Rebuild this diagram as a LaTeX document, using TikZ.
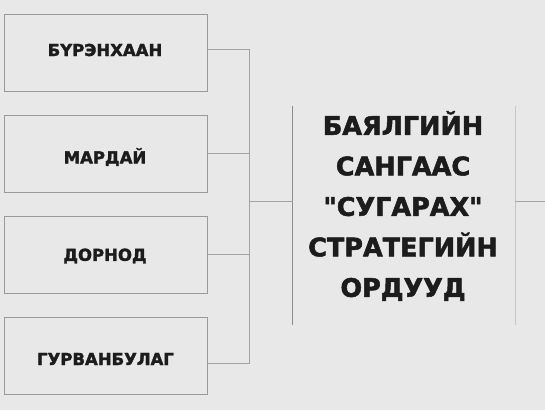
\documentclass[tikz,border=0pt]{standalone}
\usepackage{fontspec}
\newfontfamily\hv{DejaVu Sans}[BoldFont={DejaVu Sans Bold},BoldFeatures={FakeBold=2}]
\begin{document}
\begin{tikzpicture}[x=1pt,y=-1pt,
  boxline/.style={draw=boxgray,line width=1pt},
  conn/.style={draw=conngray,line width=1pt},
  smalltxt/.style={font=\hv\bfseries\fontsize{16.5}{20}\selectfont,text=txt,inner sep=0pt},
  bigtxt/.style={font=\hv\bfseries\fontsize{25.5}{40.5}\selectfont,text=txt,align=center,inner sep=0pt},
  region/.style={minimum width=203pt,minimum height=77pt,inner sep=0pt,boxline}]
\definecolor{bg}{HTML}{E8E8E8}
\definecolor{boxgray}{HTML}{9A9A9A}
\definecolor{conngray}{HTML}{A2A2A2}
\definecolor{leftgray}{HTML}{8C8C8C}
\definecolor{rightgray}{HTML}{C6C6C6}
\definecolor{txt}{HTML}{1C1C1C}
\fill[bg] (0,0) rectangle (545,410);
\useasboundingbox (0,0) rectangle (545,410);
% left boxes
\node[region] (b1) at (105.5,52.5) {};
\node[region] (b2) at (105.5,153.5) {};
\node[region] (b3) at (105.5,254.5) {};
\node[region] (b4) at (105.5,355.5) {};
\node[smalltxt] (t1) at (105,50) {БҮРЭНХААН};
\node[smalltxt] (t2) at (105,157) {МАРДАЙ};
\node[smalltxt] (t3) at (105,256) {ДОРНОД};
\node[smalltxt] (t4) at (105.5,359) {ГУРВАНБУЛАГ};
% big box
\node[minimum width=222pt,minimum height=219pt,inner sep=0pt] (big) at (404,215.5) {};
\draw[draw=leftgray,line width=1pt] (big.north west) -- (big.south west);
\draw[draw=rightgray,line width=1.2pt] (big.north east) -- (big.south east);
\node[bigtxt] (bt) at (403,206) {БАЯЛГИЙН\\САНГААС\\"СУГАРАХ"\\СТРАТЕГИЙН\\ОРДУУД};
% connectors
\coordinate (j) at (249.5,201.5);
\coordinate (out) at (545,201.5);
\draw[conn] (b1.east |- 0,49) -| (j);
\draw[conn] (b2.east |- 0,153) -| (j);
\draw[conn] (b3.east |- 0,254) -| (j);
\draw[conn] (b4.east |- 0,363) -| (j);
\draw[conn] (j) -- (big.west |- j);
\draw[conn] (big.east |- j) -- (out);
\end{tikzpicture}
\end{document}
